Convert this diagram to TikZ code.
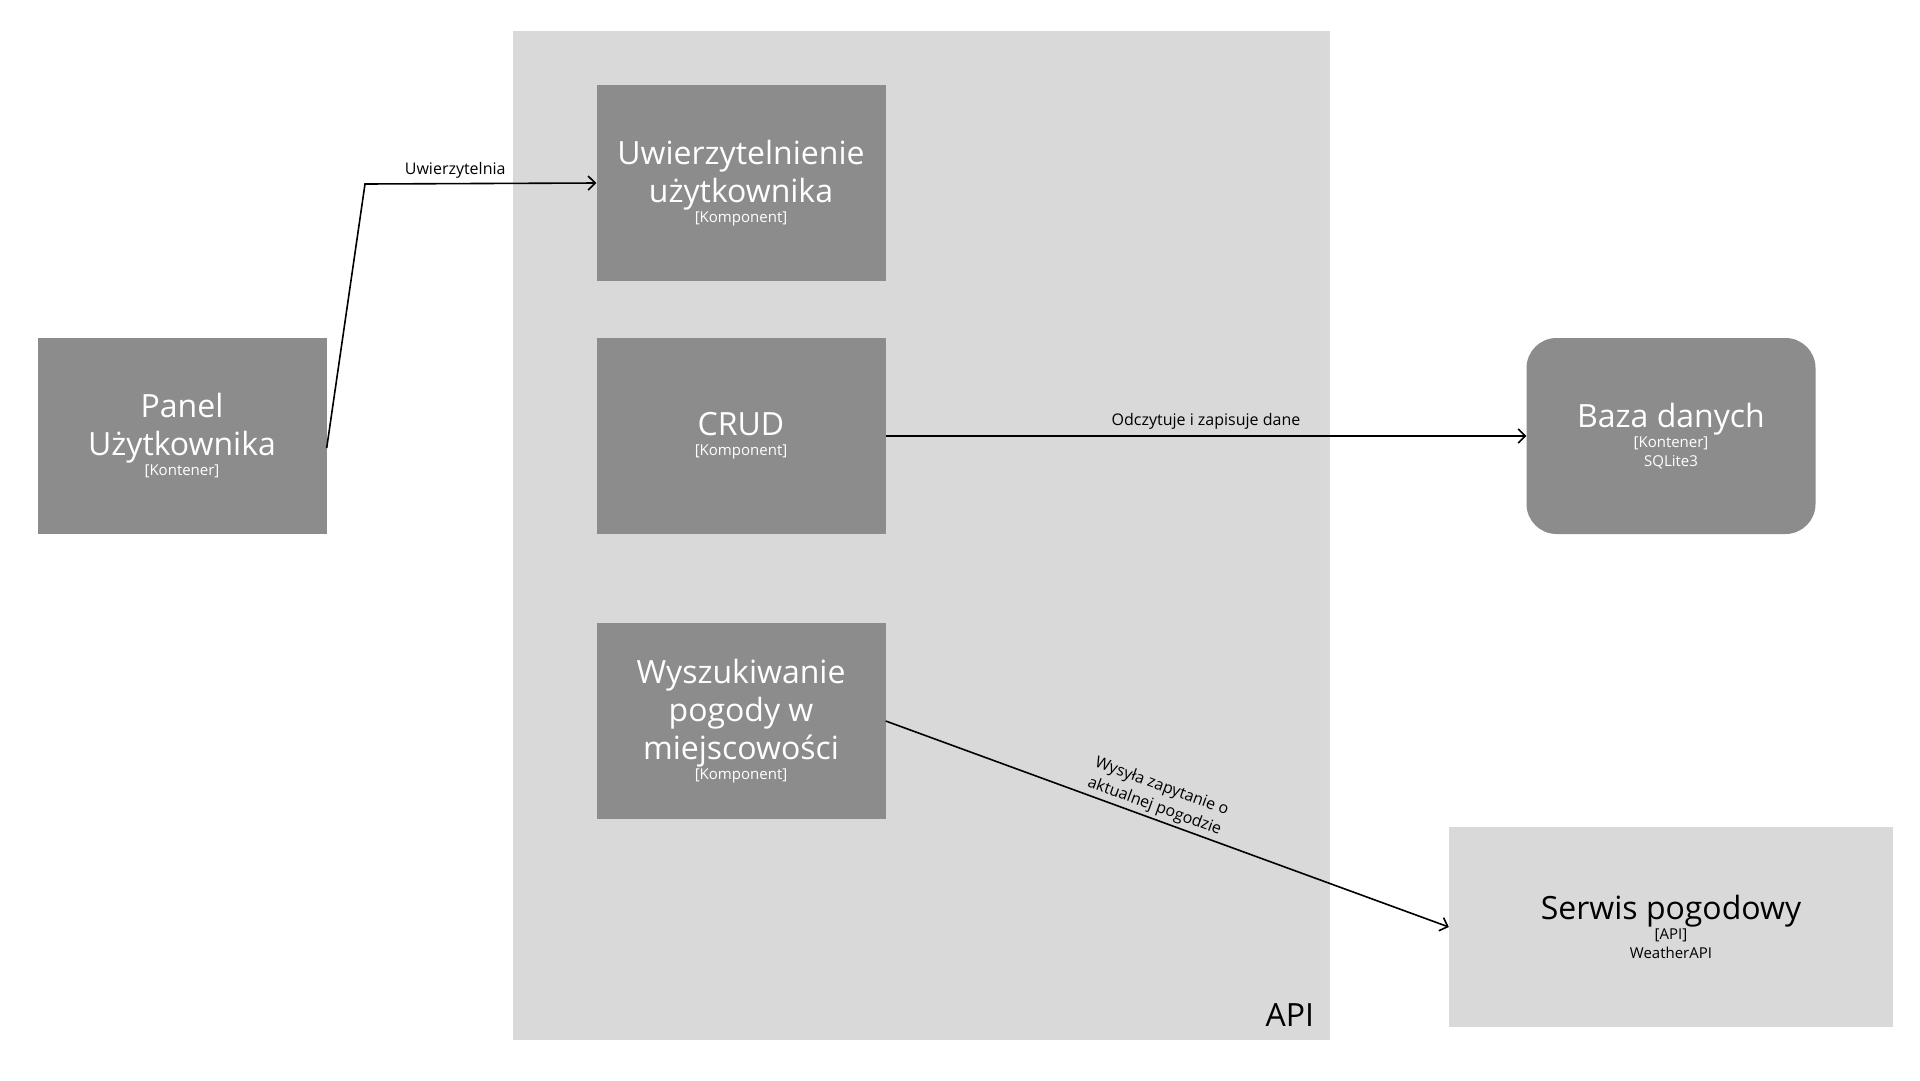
\documentclass[tikz,border=0pt]{standalone}
\usepackage{fontspec}
\setmainfont{Open Sans}
\usepackage{xcolor}
\usetikzlibrary{arrows.meta, positioning, calc}

\definecolor{compgray}{HTML}{8C8C8C}
\definecolor{apigray}{HTML}{D9D9D9}
\newcommand{\boxsub}[1]{{\fontsize{15}{18}\selectfont #1}}

\begin{document}
\begin{tikzpicture}[x=1pt, y=-1pt,
    comp/.style={fill=compgray, text=white, minimum width=289pt, minimum height=196pt,
      align=center, inner sep=0pt, font=\fontsize{32}{38}\selectfont},
    ext/.style={fill=apigray, text=black, minimum width=444pt, minimum height=200pt,
      align=center, inner sep=0pt, font=\fontsize{32}{38}\selectfont},
    conn/.style={-{Straight Barb[length=7pt, width=14pt]}, line width=1.6pt},
    lbl/.style={font=\fontsize{16}{19}\selectfont, text=black}]
  \useasboundingbox (0,0) rectangle (1920,1080);
  \fill[white] (0,0) rectangle (1920,1080);

  % kontener API
  \node[fill=apigray, minimum width=817pt, minimum height=1009pt, inner sep=0pt] (api) at (921.5,535.5) {};
  \node[above left=14pt and 16pt of api.south east, anchor=south east, inner sep=0pt,
    font=\fontsize{32}{38}\selectfont] (apiname) {API};

  \node[comp] (panel) at (182,436) {Panel\\Użytkownika\\[-18pt]\boxsub{[Kontener]}};
  \node[comp] (auth) at (741,183) {Uwierzytelnienie\\użytkownika\\[-18pt]\boxsub{[Komponent]}};
  \node[comp] (crud) at (741,436) {CRUD\\[-18pt]\boxsub{[Komponent]}};
  \node[comp] (search) at (741,721) {Wyszukiwanie\\pogody w\\miejscowości\\[-18pt]\boxsub{[Komponent]}};
  \node[comp, rounded corners=30pt] (db) at (1671,436) {Baza danych\\[-18pt]\boxsub{[Kontener]}\\[-19pt]\boxsub{SQLite3}};
  \node[ext] (weather) at (1671,927) {Serwis pogodowy\\[-18pt]\boxsub{[API]}\\[-19pt]\boxsub{WeatherAPI}};

  \coordinate (bend) at (365,184);

  \draw[conn] ($(panel.east)+(0,12)$) -- (bend) -- node[lbl, above, pos=0.39, inner sep=4pt] {Uwierzytelnia} (auth.west);
  \draw[conn] (crud.east) -- node[lbl, above, midway, inner sep=6pt] {Odczytuje i zapisuje dane} (db.west);
  \draw[conn] (search.east) -- node[lbl, above, sloped, pos=0.47, align=center, inner sep=3pt,
    font=\fontsize{16}{21}\selectfont] {Wysyła zapytanie o\\aktualnej pogodzie} (weather.west);
\end{tikzpicture}
\end{document}
